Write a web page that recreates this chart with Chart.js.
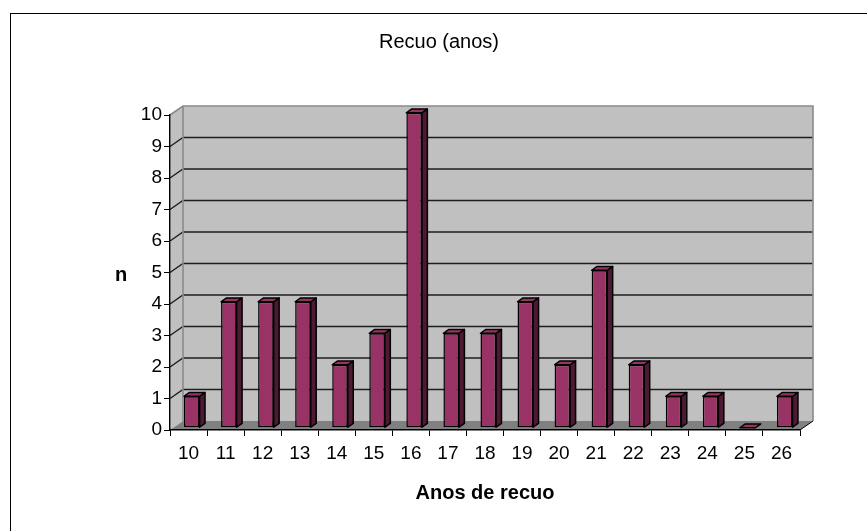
<!DOCTYPE html>
<html>
<head>
<meta charset="utf-8">
<script src="https://cdn.jsdelivr.net/npm/chart.js@4/dist/chart.umd.min.js"></script>
<style>
  html, body { margin: 0; padding: 0; background: #ffffff; }
  #wrap { width: 867px; height: 531px; position: relative; }
</style>
</head>
<body>
<div id="wrap"><canvas id="chart" width="867" height="531"></canvas></div>
<script>
// Years of retreat and how many cases fall in each
const categories = ['10', '11', '12', '13', '14', '15', '16', '17', '18', '19', '20', '21', '22', '23', '24', '25', '26'];
const counts = [1, 4, 4, 4, 2, 3, 10, 3, 3, 4, 2, 5, 2, 1, 1, 0, 1];
const yTickValues = [0, 1, 2, 3, 4, 5, 6, 7, 8, 9, 10];

const chartTitle = 'Recuo (anos)';
const xAxisTitle = 'Anos de recuo';
const yAxisTitle = 'n';

const FONT = '"Liberation Sans", Arial, Helvetica, sans-serif';

// Pseudo-3D depth of the plot box (back wall offset) and of each column
const DEPTH_X = 13, DEPTH_Y = -9;
const BAR_FRONT = 0.25, BAR_BACK = 0.67;

const BAR_FRONT_COLOR = '#993366';
const BAR_SIDE_COLOR = '#4d1933';
const BAR_TOP_COLOR = '#993366';

function poly(ctx, pts, fill, stroke, lw) {
  ctx.beginPath();
  ctx.moveTo(pts[0][0], pts[0][1]);
  for (let i = 1; i < pts.length; i++) ctx.lineTo(pts[i][0], pts[i][1]);
  ctx.closePath();
  if (fill) { ctx.fillStyle = fill; ctx.fill(); }
  if (stroke) { ctx.strokeStyle = stroke; ctx.lineWidth = lw || 1; ctx.stroke(); }
}

// Walls, floor, gridlines, frame and free-standing texts
const boxPlugin = {
  id: 'box3d',
  beforeDraw(chart) {
    const ctx = chart.ctx;
    const { left, right, top, bottom } = chart.chartArea;
    const yScale = chart.scales.y;
    ctx.save();
    ctx.fillStyle = '#ffffff';
    ctx.fillRect(0, 0, chart.width, chart.height);

    // outer frame
    ctx.strokeStyle = '#000000';
    ctx.lineWidth = 1;
    ctx.strokeRect(10.5, 13.5, 1000, 1000);

    // back wall
    poly(ctx, [[left + DEPTH_X, top + DEPTH_Y], [right + DEPTH_X, top + DEPTH_Y],
               [right + DEPTH_X, bottom + DEPTH_Y], [left + DEPTH_X, bottom + DEPTH_Y]], '#c0c0c0');
    // side wall
    poly(ctx, [[left, top], [left + DEPTH_X, top + DEPTH_Y],
               [left + DEPTH_X, bottom + DEPTH_Y], [left, bottom]], '#c0c0c0');
    // floor
    poly(ctx, [[left, bottom], [left + DEPTH_X, bottom + DEPTH_Y],
               [right + DEPTH_X, bottom + DEPTH_Y], [right, bottom]], '#808080');

    // gridlines across side wall and back wall
    ctx.strokeStyle = '#1e1e1e';
    ctx.lineWidth = 1.4;
    yTickValues.forEach(v => {
      if (v === 0 || v === yTickValues[yTickValues.length - 1]) return;
      const y = yScale.getPixelForValue(v);
      ctx.beginPath();
      ctx.moveTo(left, y);
      ctx.lineTo(left + DEPTH_X, y + DEPTH_Y);
      ctx.lineTo(right + DEPTH_X, y + DEPTH_Y);
      ctx.stroke();
    });

    // wall edges
    ctx.strokeStyle = '#8a8a8a';
    ctx.lineWidth = 1.6;
    ctx.beginPath();
    ctx.moveTo(left, top);
    ctx.lineTo(left + DEPTH_X, top + DEPTH_Y);
    ctx.lineTo(right + DEPTH_X, top + DEPTH_Y);
    ctx.lineTo(right + DEPTH_X, bottom + DEPTH_Y);
    ctx.moveTo(left + DEPTH_X, top + DEPTH_Y);
    ctx.lineTo(left + DEPTH_X, bottom + DEPTH_Y);
    ctx.stroke();

    // floor front-right edge
    ctx.strokeStyle = '#000000';
    ctx.lineWidth = 1;
    ctx.beginPath();
    ctx.moveTo(right, bottom);
    ctx.lineTo(right + DEPTH_X, bottom + DEPTH_Y);
    ctx.stroke();

    // chart title and the upright y-axis title
    ctx.fillStyle = '#000000';
    ctx.textAlign = 'center';
    ctx.textBaseline = 'alphabetic';
    ctx.font = '20px ' + FONT;
    ctx.fillText(chartTitle, 439, 48);
    ctx.font = 'bold 20px ' + FONT;
    ctx.fillText(yAxisTitle, 121, 281);
    ctx.restore();
  },
  beforeDatasetsDraw(chart) {
    const ctx = chart.ctx;
    ctx.save();
    ctx.translate(DEPTH_X * BAR_FRONT, DEPTH_Y * BAR_FRONT);
  },
  afterDatasetsDraw(chart) {
    const ctx = chart.ctx;
    const bdx = DEPTH_X * (BAR_BACK - BAR_FRONT);
    const bdy = DEPTH_Y * (BAR_BACK - BAR_FRONT);
    const meta = chart.getDatasetMeta(0);
    ctx.lineJoin = 'round';
    meta.data.forEach(el => {
      const { x, y, base, width } = el.getProps(['x', 'y', 'base', 'width'], true);
      const l = x - width / 2, r = x + width / 2;
      // side face
      if (base - y > 0.5) {
        poly(ctx, [[r, y], [r + bdx, y + bdy], [r + bdx, base + bdy], [r, base]], BAR_SIDE_COLOR, '#000', 1.5);
      }
      // top face
      poly(ctx, [[l, y], [l + bdx, y + bdy], [r + bdx, y + bdy], [r, y]], BAR_TOP_COLOR, '#000', 1.5);
    });
    ctx.restore();
  }
};

new Chart(document.getElementById('chart'), {
  type: 'bar',
  data: {
    labels: categories,
    datasets: [{
      data: counts,
      backgroundColor: BAR_FRONT_COLOR,
      borderColor: '#000000',
      borderWidth: 1.5,
      borderSkipped: false,
      categoryPercentage: 1,
      barPercentage: 0.42,
      clip: false
    }]
  },
  options: {
    responsive: false,
    animation: false,
    devicePixelRatio: 1,
    layout: { padding: { left: 100, right: 67, top: 115, bottom: 0 } },
    plugins: {
      legend: { display: false },
      title: { display: false },
      tooltip: { enabled: false }
    },
    scales: {
      x: {
        offset: true,
        grid: { display: true, drawOnChartArea: false, drawTicks: true, tickLength: 6, color: '#000000', offset: true },
        border: { display: true, color: '#000000', width: 1.4 },
        ticks: { color: '#000000', font: { family: FONT, size: 19 }, padding: 6, maxRotation: 0, autoSkip: false },
        title: { display: true, text: xAxisTitle, color: '#000000', font: { family: FONT, size: 20, weight: 'bold' }, padding: { top: 0, bottom: 26 } },
        afterFit(scale) { scale.height = 101; }
      },
      y: {
        min: 0,
        max: 10,
        afterBuildTicks(scale) { scale.ticks = yTickValues.map(v => ({ value: v })); },
        grid: { display: true, drawOnChartArea: false, drawTicks: true, tickLength: 6, color: '#000000' },
        border: { display: true, color: '#000000', width: 1.4 },
        ticks: { color: '#000000', font: { family: FONT, size: 19 }, padding: 2 },
        afterFit(scale) { scale.width = 70; }
      }
    }
  },
  plugins: [boxPlugin]
});
</script>
</body>
</html>
